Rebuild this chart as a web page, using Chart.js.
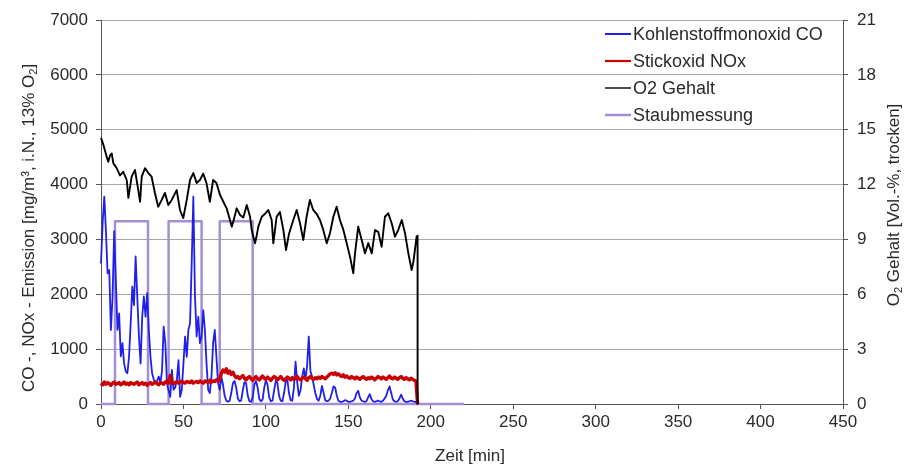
<!DOCTYPE html>
<html>
<head>
<meta charset="utf-8">
<script src="https://cdn.jsdelivr.net/npm/chart.js@4"></script>
<style>
  html, body { margin: 0; padding: 0; background: #fff; }
  canvas { display: block; }
</style>
</head>
<body>
<canvas id="c" width="908" height="471"></canvas>
<script>
// ---- data ----
// sampling times for CO / NOx, one value per minute (0..192 min)
const minutes = Array.from({ length: 193 }, (_, i) => i);

const coValues = [
  2560, 3300, 3780, 3150, 2380, 2440, 1350, 1950, 3150, 2260,
  1350, 1650, 870, 1110, 740, 600, 560, 860, 1470, 2140,
  1800, 2690, 1960, 1230, 740, 1590, 1960, 1590, 2020, 1350,
  860, 560, 450, 380, 420, 500, 380, 600, 1410, 1110,
  380, 240, 130, 620, 260, 300, 440, 800, 130, 260,
  740, 1230, 860, 1350, 1470, 2560, 3780, 1960, 1230, 1590,
  1110, 1230, 1710, 1350, 740, 260, 200, 500, 1110, 1350,
  860, 380, 260, 500, 350, 150, 60, 40, 60, 200,
  380, 420, 300, 100, 50, 60, 250, 400, 380, 150,
  50, 40, 120, 350, 420, 300, 90, 50, 80, 300,
  430, 350, 120, 50, 60, 250, 420, 380, 150, 60,
  50, 200, 400, 450, 200, 70, 60, 300, 770, 400,
  150, 250, 500, 650, 450, 700, 1230, 600, 500, 350,
  200, 90, 60, 150, 330, 200, 70, 50, 60, 100,
  200, 320, 300, 150, 60, 40, 40, 50, 70, 60,
  40, 40, 50, 60, 100, 200, 240, 120, 60, 50,
  40, 50, 120, 180, 90, 50, 40, 50, 60, 50,
  40, 60, 100, 150, 250, 320, 200, 80, 50, 40,
  50, 100, 170, 100, 50, 40, 40, 50, 60, 50,
  40, 40, 0
];

const noxValues = [
  380, 350, 400, 360, 390, 370, 340, 380, 400, 360,
  370, 390, 350, 370, 400, 360, 380, 350, 390, 370,
  360, 380, 400, 350, 370, 390, 360, 380, 340, 370,
  390, 360, 380, 400, 370, 350, 390, 380, 360, 400,
  420, 380, 520, 400, 370, 390, 410, 380, 400, 420,
  390, 380, 410, 400, 390, 420, 380, 400, 410, 390,
  420, 400, 380, 420, 410, 390, 430, 400, 420, 410,
  440, 420, 450, 560, 620, 580, 640, 560, 600, 540,
  580, 520, 480, 500, 460, 490, 520, 470, 440, 480,
  500, 460, 430, 470, 500, 460, 440, 480, 510, 470,
  450, 490, 460, 430, 470, 500, 480, 440, 470, 500,
  460, 430, 460, 490, 470, 440, 480, 450, 470, 500,
  460, 440, 470, 490, 460, 430, 480, 500, 470, 450,
  480, 460, 490, 470, 500, 480, 460, 490, 520, 550,
  560, 540, 570, 530, 550, 520, 500, 530, 490, 510,
  480, 470, 500, 480, 460, 490, 470, 450, 480, 500,
  470, 450, 480, 460, 490, 470, 440, 470, 500, 480,
  460, 490, 470, 450, 480, 510, 470, 460, 490, 470,
  450, 480, 500, 470, 450, 480, 460, 440, 470, 450,
  430, 420, 0
];

const o2Times = [
  0, 1, 2, 3.5, 4.4, 5.5, 6.5, 7.5, 9.5, 11.5,
  13.5, 15.6, 16.6, 18.6, 20.6, 22.6, 23.7, 24.7, 26.7, 28.7,
  30.7, 32.7, 34.7, 36.8, 38.8, 40.8, 42.9, 45.9, 47.9, 49.9,
  52, 54, 56, 58, 60, 62, 64, 66, 68, 70,
  72.2, 74.2, 76.2, 78.2, 79.3, 80.3, 82.3, 84.3, 86.3, 88.4,
  90.4, 91.4, 93.4, 94.4, 95.4, 97.5, 99.5, 101.5, 103.5, 104.5,
  106.5, 108.5, 110.6, 112.2, 114, 116.6, 118.7, 120.7, 122.7, 124.7,
  126.7, 128.7, 130.7, 132.8, 134.8, 136.9, 138.9, 140.9, 142.9, 144.9,
  147, 149, 151, 153, 154, 156, 158.1, 160.1, 162.1, 164.2,
  166.2, 168.2, 170.2, 172.2, 174.2, 176.3, 178.3, 180.3, 182.4, 184.4,
  186.4, 188.4, 189.5, 191.4, 192, 192
];
const o2Values = [
  14.55, 14.3, 14.0, 13.5, 13.25, 13.6, 13.7, 13.16, 12.9, 12.5,
  12.7, 12.25, 11.27, 12.43, 12.8, 11.7, 11.06, 12.43, 12.9, 12.63,
  12.43, 11.54, 10.79, 11.16, 11.54, 10.88, 11.16, 11.7, 10.61, 10.17,
  11.16, 12.25, 12.63, 12.09, 12.25, 12.6, 12.07, 11.06, 12.25, 12.09,
  11.43, 11.06, 10.7, 10.06, 9.7, 10.0, 10.7, 10.34, 10.2, 10.88,
  10.24, 9.52, 8.79, 9.2, 9.7, 10.24, 10.4, 10.61, 10.06, 8.79,
  10.24, 10.5, 9.52, 8.42, 9.3, 10.06, 10.61, 9.88, 8.97, 10.24,
  11.16, 10.61, 10.4, 10.06, 9.52, 8.79, 9.35, 10.24, 10.79, 10.06,
  9.52, 8.79, 8.06, 7.15, 8.2, 9.7, 8.97, 8.24, 8.8, 8.24,
  9.52, 9.4, 8.6, 10.24, 10.43, 9.88, 9.15, 9.52, 10.06, 9.33,
  8.24, 7.33, 7.8, 9.15, 9.2, 0
];

const staubTimes  = [0, 8.5, 8.5, 28.5, 28.5, 41, 41, 61, 61, 72, 72, 92, 92, 220];
const staubValues = [0, 0, 3330, 3330, 0, 0, 3330, 3330, 0, 0, 3330, 3330, 0, 0];

const seriesLabels = ['Kohlenstoffmonoxid CO', 'Stickoxid NOx', 'O2 Gehalt', 'Staubmessung'];
const xTitle = 'Zeit [min]';
const leftTitle = [{ t: 'CO -, NOx - Emission [mg/m³, i.N., 13% O' }, { t: '2', sub: true }, { t: ']' }];
const rightTitle = [{ t: 'O' }, { t: '2', sub: true }, { t: ' Gehalt [Vol.-%, trocken]' }];

// ---- chart ----
const FONT = 'Liberation Sans, Arial, sans-serif';
const TXT = '#2a2a2a';

function xy(xs, ys) { return xs.map((x, i) => ({ x: x, y: ys[i] })); }

function drawRich(ctx, parts, cx, cy, rot, size) {
  ctx.save();
  ctx.translate(cx, cy);
  ctx.rotate(rot);
  ctx.fillStyle = TXT;
  ctx.textBaseline = 'middle';
  ctx.textAlign = 'left';
  let total = 0;
  parts.forEach(p => {
    ctx.font = (p.sub ? Math.round(size * 0.65) : size) + 'px ' + FONT;
    p.w = ctx.measureText(p.t).width;
    total += p.w;
  });
  let x = -total / 2;
  parts.forEach(p => {
    ctx.font = (p.sub ? Math.round(size * 0.65) : size) + 'px ' + FONT;
    ctx.fillText(p.t, x, p.sub ? size * 0.3 : 0);
    x += p.w;
  });
  ctx.restore();
}

const decor = {
  id: 'decor',
  afterDraw(chart) {
    const ctx = chart.ctx;
    // axis titles
    drawRich(ctx, [{ t: xTitle }], 470, 456, 0, 17);
    drawRich(ctx, leftTitle, 29, 228, -Math.PI / 2, 17);
    drawRich(ctx, rightTitle, 894, 205, -Math.PI / 2, 17);
    // legend inside plot area
    const x0 = 605, lineLen = 26, y0 = 34, step = 27;
    chart.data.datasets.forEach((ds, i) => {
      const y = y0 + i * step;
      ctx.save();
      ctx.strokeStyle = ds.borderColor;
      ctx.lineWidth = ds.legendWidth || ds.borderWidth;
      ctx.beginPath();
      ctx.moveTo(x0, y);
      ctx.lineTo(x0 + lineLen, y);
      ctx.stroke();
      ctx.fillStyle = TXT;
      ctx.font = '18px ' + FONT;
      ctx.textBaseline = 'middle';
      ctx.textAlign = 'left';
      ctx.fillText(ds.label, x0 + lineLen + 2, y + 1);
      ctx.restore();
    });
  }
};

const tickFont = { family: FONT, size: 17 };
const plain = v => String(v);

new Chart(document.getElementById('c'), {
  type: 'line',
  data: {
    datasets: [
      { label: seriesLabels[0], data: xy(minutes, coValues), yAxisID: 'y',
        borderColor: '#2020e8', borderWidth: 1.8, legendWidth: 2, order: 2 },
      { label: seriesLabels[1], data: xy(minutes, noxValues), yAxisID: 'y',
        borderColor: '#cc0000', borderWidth: 3.4, legendWidth: 2.2, order: 1 },
      { label: seriesLabels[2], data: xy(o2Times, o2Values), yAxisID: 'y2',
        borderColor: '#000000', borderWidth: 1.9, legendWidth: 1.4, order: 0 },
      { label: seriesLabels[3], data: xy(staubTimes, staubValues), yAxisID: 'y',
        borderColor: '#a48fd6', borderWidth: 2.5, legendWidth: 2.5, order: 3 }
    ]
  },
  options: {
    responsive: false,
    animation: false,
    layout: { padding: { top: 20, left: 0, right: 0, bottom: 0 } },
    elements: { point: { radius: 0 }, line: { tension: 0, borderJoinStyle: 'round' } },
    datasets: { line: { clip: false } },
    plugins: { legend: { display: false }, tooltip: { enabled: false }, title: { display: false } },
    scales: {
      x: {
        type: 'linear', min: 0, max: 450,
        ticks: { stepSize: 50, font: tickFont, color: TXT, padding: 3, maxRotation: 0, callback: plain },
        grid: { drawOnChartArea: false, drawTicks: true, tickLength: 5, color: '#555' },
        border: { display: true, color: '#555', width: 1 },
        afterFit(s) { s.height = 67; }
      },
      y: {
        position: 'left', min: 0, max: 7000,
        ticks: { stepSize: 1000, font: tickFont, color: TXT, padding: 8, callback: plain },
        grid: { color: '#a8a8a8', tickColor: '#555', tickLength: 5 },
        border: { display: true, color: '#555', width: 1 },
        afterFit(s) { s.width = 101; }
      },
      y2: {
        position: 'right', min: 0, max: 21,
        ticks: { stepSize: 3, font: tickFont, color: TXT, padding: 9, callback: plain },
        grid: { drawOnChartArea: false, tickLength: 5, color: '#555' },
        border: { display: true, color: '#555', width: 1 },
        afterFit(s) { s.width = 65; }
      }
    }
  },
  plugins: [decor]
});
</script>
</body>
</html>
